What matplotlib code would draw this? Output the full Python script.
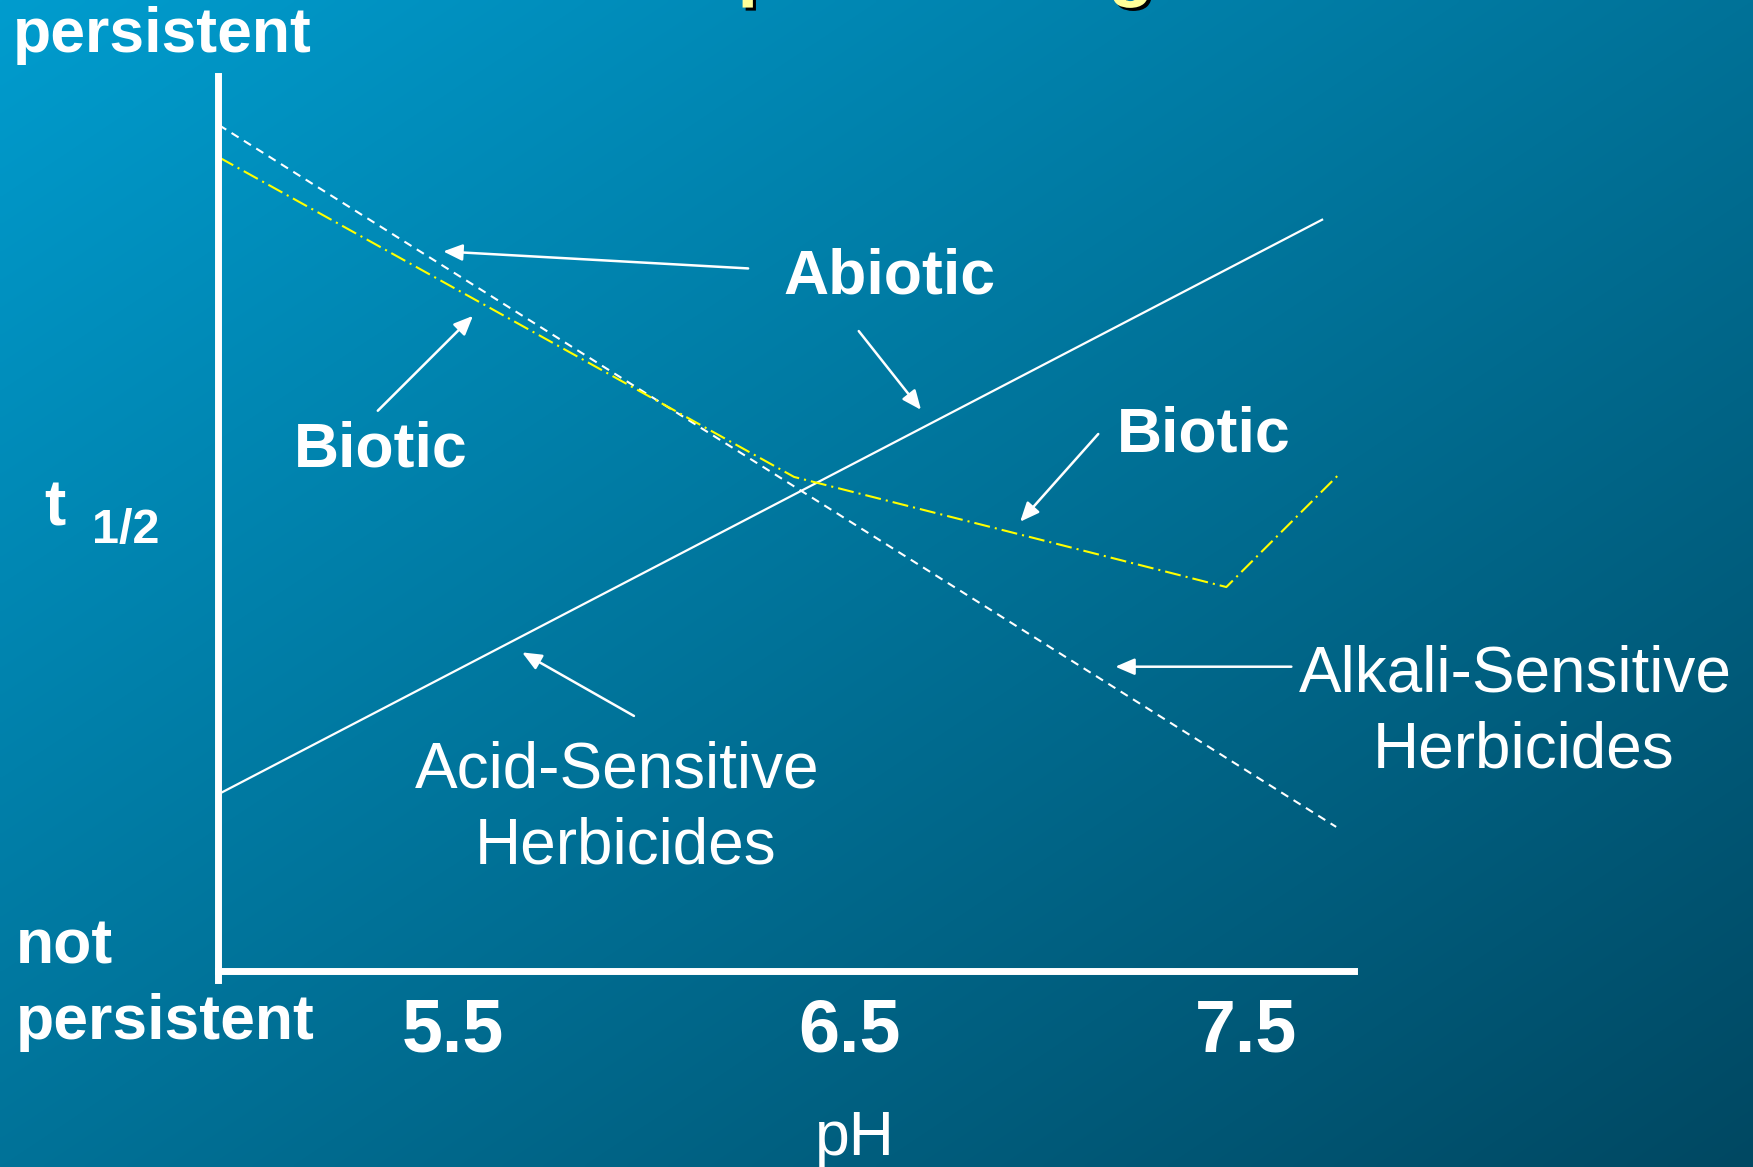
import numpy as np
import matplotlib
matplotlib.use("Agg")
import matplotlib.pyplot as plt
import matplotlib.patheffects as pe

plt.rcParams['font.family'] = ['Liberation Sans', 'DejaVu Sans']

# half-life (relative, 0 = not persistent, 1 = persistent) against soil pH
acid_ph = [4.91, 7.694]
acid_t = [0.198, 0.840]
abiotic_ph = [4.91, 7.727]
abiotic_t = [0.945, 0.161]
biotic_ph = [4.91, 6.36, 7.45, 7.732]
biotic_t = [0.909, 0.552, 0.429, 0.554]
ph_ticks = [5.5, 6.5, 7.5]
ph_labels = ['5.5', '6.5', '7.5']

W, H = 1753, 1167
fig = plt.figure(figsize=(W / 100, H / 100), dpi=100)


def px(x, y):
	# pixel position -> figure fraction
	return x / W, 1 - y / H


# slide background, diagonal blue gradient
bg = fig.add_axes([0, 0, 1, 1], zorder=0)
u = np.linspace(0, 1, 400)[None, :]
v = np.linspace(0, 1, 300)[:, None]
s = 0.5 * u + 0.5 * v
tl = np.array([0, 156, 206]) / 255
br = np.array([0, 72, 98]) / 255
img = tl[None, None, :] + (br - tl)[None, None, :] * s[:, :, None]
bg.imshow(img, aspect='auto', extent=[0, 1, 0, 1], interpolation='bilinear')
bg.set_axis_off()

# title sits mostly above the crop, only descenders show
fig.text(*px(579, -8), 'Soil pH and Degradation', color='#FFFF99', fontsize=54,
	fontweight='bold', va='baseline', ha='left', zorder=2,
	path_effects=[pe.SimplePatchShadow(offset=(2.2, -2.2), shadow_rgbFace='black', alpha=1),
		pe.Normal()])

ax = fig.add_axes([218 / W, 1 - 971 / H, (1354 - 218) / W, (971 - 76) / H], zorder=1)
ax.patch.set_alpha(0)
ax.set_xlim(4.907, 7.772)
ax.set_ylim(0, 1)

ax.plot(acid_ph, acid_t, color='white', lw=1.6, solid_capstyle='butt')
ax.plot(abiotic_ph, abiotic_t, color='white', lw=1.5, dashes=(4, 3))
ax.plot(biotic_ph, biotic_t, color='#FFFF00', lw=1.5, dashes=(7.7, 2.4, 1, 2.4))

for side in ['top', 'right']:
	ax.spines[side].set_visible(False)
for side in ['left', 'bottom']:
	ax.spines[side].set_color('white')
	ax.spines[side].set_linewidth(5)
ax.spines['left'].set_bounds(-0.01, 1.0)

ax.set_yticks([])
ax.set_xticks(ph_ticks)
ax.set_xticklabels(ph_labels)
ax.tick_params(axis='x', length=0, pad=19, labelsize=53, labelcolor='white')
for lab in ax.get_xticklabels():
	lab.set_fontweight('bold')

arrow = dict(arrowstyle='-|>,head_length=0.58,head_width=0.25', color='white',
	lw=1.8, mutation_scale=20, shrinkA=0, shrinkB=0)
# (tail, tip) in data coords
arrows = [
	((6.244, 0.785), (5.475, 0.804)),
	((6.523, 0.715), (6.680, 0.627)),
	((5.310, 0.626), (5.550, 0.732)),
	((7.127, 0.600), (6.930, 0.502)),
	((7.614, 0.340), (7.170, 0.340)),
	((5.956, 0.285), (5.674, 0.356)),
]
for tail, tip in arrows:
	ax.annotate('', xy=tip, xytext=tail, arrowprops=arrow, annotation_clip=False)

bold = dict(color='white', fontsize=45, fontweight='bold', va='baseline')
fig.text(*px(783, 293), 'Abiotic', ha='left', **bold)
fig.text(*px(294, 467), 'Biotic', ha='left', **bold)
fig.text(*px(1117, 452), 'Biotic', ha='left', **bold)
fig.text(*px(13, 52), 'persistent', ha='left', **bold)
fig.text(*px(16, 963), 'not', ha='left', **bold)
fig.text(*px(16, 1039), 'persistent', ha='left', **bold)
fig.text(*px(44, 525), 't', ha='left', color='white', fontsize=46, fontweight='bold', va='baseline')
fig.text(*px(92, 543), '1/2', ha='left', color='white', fontsize=35, fontweight='bold', va='baseline')

reg = dict(color='white', fontsize=46, va='baseline', ha='center')
fig.text(*px(617, 788), 'Acid-Sensitive', **reg)
fig.text(*px(626, 864), 'Herbicides', **reg)
fig.text(*px(1515, 691), 'Alkali-Sensitive', **reg)
fig.text(*px(1524, 767), 'Herbicides', **reg)
fig.text(*px(855, 1155), 'pH', color='white', fontsize=45, va='baseline', ha='center')

fig.savefig('out.png', dpi=100)
